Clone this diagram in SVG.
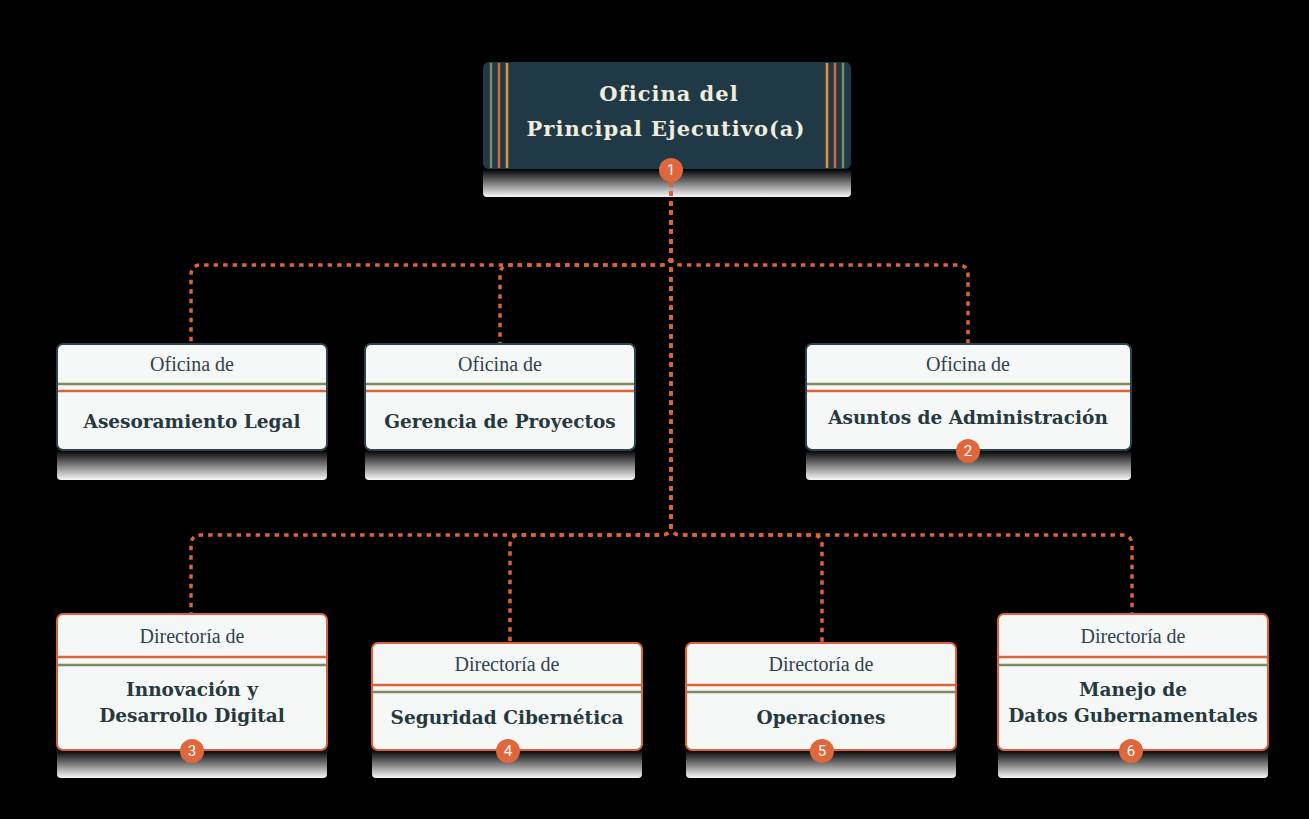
<svg xmlns="http://www.w3.org/2000/svg" width="1309" height="819" viewBox="0 0 1309 819">
<defs>
<linearGradient id="refl" x1="0" y1="0" x2="0" y2="1">
<stop offset="0" stop-color="#000"/>
<stop offset="0.2" stop-color="#303030"/>
<stop offset="1" stop-color="#f8f8f8"/>
</linearGradient>
<style>
.refl{fill:url(#refl)}
.top{fill:#1f3a46}
.office{fill:#f6f7f7;stroke:#2b4450;stroke-width:2}
.dir{fill:#f6f7f7;stroke:#d9643c;stroke-width:2}
.green{stroke:#7d8c5c;stroke-width:2.5}
.orange{stroke:#d9643c;stroke-width:2.5}
.amber{stroke:#e4903c;stroke-width:2.5}
.pre{font-family:"Liberation Serif",serif;font-size:20px;fill:#2f444c;text-anchor:middle}
.main{font-family:"DejaVu Serif",serif;font-weight:bold;font-size:18.5px;fill:#25393f;text-anchor:middle}
.title{font-family:"DejaVu Serif",serif;font-weight:bold;font-size:21px;fill:#f1ecdc;text-anchor:middle;letter-spacing:1px}
.badge{fill:#e0663c}
.num{font-family:"Roboto","Liberation Sans",sans-serif;font-size:15px;fill:#fff;text-anchor:middle}
.conn{fill:none;stroke:#d9643c;stroke-width:3.5;stroke-dasharray:4.5 5}
</style>
</defs>
<rect x="0" y="0" width="1309" height="819" fill="#000"/>

<g id="node-principal">
<path class="refl" d="M483,169 H851 V193 Q851,197 847,197 H487 Q483,197 483,193 Z"/>
<rect class="top" x="483" y="62" width="368" height="107" rx="6"/>
<line class="green" x1="491" y1="63" x2="491" y2="168"/>
<line class="orange" x1="499" y1="63" x2="499" y2="168"/>
<line class="amber" x1="507" y1="63" x2="507" y2="168"/>
<line class="amber" x1="827" y1="63" x2="827" y2="168"/>
<line class="orange" x1="835" y1="63" x2="835" y2="168"/>
<line class="green" x1="843" y1="63" x2="843" y2="168"/>
<text class="title" x="669" y="101">Oficina del</text>
<text class="title" x="666" y="136">Principal Ejecutivo(a)</text>
</g>

<g id="node-legal">
<path class="refl" d="M57,450 H327 V476 Q327,480 323,480 H61 Q57,480 57,476 Z"/>
<rect class="office" x="57" y="344" width="270" height="106" rx="6"/>
<line class="green" x1="58" y1="384" x2="326" y2="384"/>
<line class="orange" x1="58" y1="391" x2="326" y2="391"/>
<text class="pre" x="192" y="371">Oficina de</text>
<text class="main" x="192" y="428">Asesoramiento Legal</text>
</g>

<g id="node-gerencia">
<path class="refl" d="M365,450 H635 V476 Q635,480 631,480 H369 Q365,480 365,476 Z"/>
<rect class="office" x="365" y="344" width="270" height="106" rx="6"/>
<line class="green" x1="366" y1="384" x2="634" y2="384"/>
<line class="orange" x1="366" y1="391" x2="634" y2="391"/>
<text class="pre" x="500" y="371">Oficina de</text>
<text class="main" x="500" y="428">Gerencia de Proyectos</text>
</g>

<g id="node-asuntos">
<path class="refl" d="M806,450 H1131 V476 Q1131,480 1127,480 H810 Q806,480 806,476 Z"/>
<rect class="office" x="806" y="344" width="325" height="106" rx="6"/>
<line class="green" x1="807" y1="384" x2="1130" y2="384"/>
<line class="orange" x1="807" y1="391" x2="1130" y2="391"/>
<text class="pre" x="968" y="371">Oficina de</text>
<text class="main" x="968" y="424">Asuntos de Administración</text>
<circle class="badge" cx="968" cy="451" r="12"/>
<text class="num" x="968" y="456">2</text>
</g>

<g id="node-innovacion">
<path class="refl" d="M57,750 H327 V774 Q327,778 323,778 H61 Q57,778 57,774 Z"/>
<rect class="dir" x="57" y="614" width="270" height="136" rx="6"/>
<line class="orange" x1="58" y1="657" x2="326" y2="657"/>
<line class="green" x1="58" y1="665" x2="326" y2="665"/>
<text class="pre" x="192" y="643">Directoría de</text>
<text class="main" x="192" y="696">Innovación y</text>
<text class="main" x="192" y="722">Desarrollo Digital</text>
<circle class="badge" cx="192" cy="751" r="12"/>
<text class="num" x="192" y="756">3</text>
</g>

<g id="node-seguridad">
<path class="refl" d="M372,750 H642 V774 Q642,778 638,778 H376 Q372,778 372,774 Z"/>
<rect class="dir" x="372" y="643" width="270" height="107" rx="6"/>
<line class="orange" x1="373" y1="685" x2="641" y2="685"/>
<line class="green" x1="373" y1="692" x2="641" y2="692"/>
<text class="pre" x="507" y="671">Directoría de</text>
<text class="main" x="507" y="724">Seguridad Cibernética</text>
<circle class="badge" cx="508" cy="751" r="12"/>
<text class="num" x="508" y="756">4</text>
</g>

<g id="node-operaciones">
<path class="refl" d="M686,750 H956 V774 Q956,778 952,778 H690 Q686,778 686,774 Z"/>
<rect class="dir" x="686" y="643" width="270" height="107" rx="6"/>
<line class="orange" x1="687" y1="685" x2="955" y2="685"/>
<line class="green" x1="687" y1="692" x2="955" y2="692"/>
<text class="pre" x="821" y="671">Directoría de</text>
<text class="main" x="821" y="724">Operaciones</text>
<circle class="badge" cx="822" cy="751" r="12"/>
<text class="num" x="822" y="756">5</text>
</g>

<g id="node-manejo">
<path class="refl" d="M998,750 H1268 V774 Q1268,778 1264,778 H1002 Q998,778 998,774 Z"/>
<rect class="dir" x="998" y="614" width="270" height="136" rx="6"/>
<line class="orange" x1="999" y1="657" x2="1267" y2="657"/>
<line class="green" x1="999" y1="665" x2="1267" y2="665"/>
<text class="pre" x="1133" y="643">Directoría de</text>
<text class="main" x="1133" y="696">Manejo de</text>
<text class="main" x="1133" y="722">Datos Gubernamentales</text>
<circle class="badge" cx="1131" cy="751" r="12"/>
<text class="num" x="1131" y="756">6</text>
</g>

<g id="connectors">
<path class="conn" d="M671,182 V255 Q671,265 661,265 H201 Q191,265 191,275 V343"/>
<path class="conn" d="M671,182 V255 Q671,265 661,265 H510 Q500,265 500,275 V343"/>
<path class="conn" d="M671,182 V255 Q671,265 681,265 H958 Q968,265 968,275 V343"/>
<path class="conn" d="M671,182 V525 Q671,535 661,535 H201 Q191,535 191,545 V613"/>
<path class="conn" d="M671,182 V525 Q671,535 661,535 H520 Q510,535 510,545 V642"/>
<path class="conn" d="M671,182 V525 Q671,535 681,535 H812 Q822,535 822,545 V642"/>
<path class="conn" d="M671,182 V525 Q671,535 681,535 H1122 Q1132,535 1132,545 V613"/>
</g>

<g id="node-badge-1">
<circle class="badge" cx="671" cy="170" r="12"/>
<text class="num" x="671" y="175">1</text>
</g>
</svg>
